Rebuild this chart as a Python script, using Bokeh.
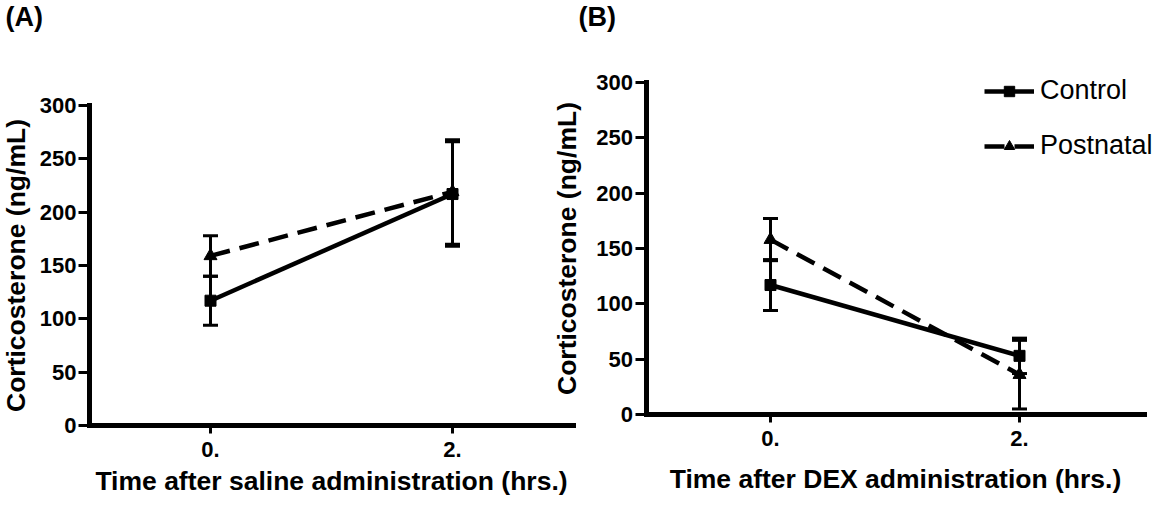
from bokeh.plotting import figure
from bokeh.models import (ColumnDataSource, Whisker, TeeHead, Legend, LegendItem,
                          Label, FixedTicker, Range1d, LinearAxis)
from bokeh.embed import file_html
from bokeh.resources import INLINE

# ---- data ----
times = [0, 2]
tick_labels = {0: "0.", 2: "2."}
y_ticks = [0, 50, 100, 150, 200, 250, 300]

control_A = [117, 217]
control_A_err = [23, 49]
postnatal_A = [159, 219]
postnatal_A_err = [19, 49]

control_B = [117, 53]
control_B_err = [23, 16]
postnatal_B = [158, 36]
postnatal_B_err = [19, 31]

FONT = "Liberation Sans"
W, H = 1157, 498
PAGE_L, PAGE_T = 8, 8


def span(v1, p1, v2, p2, lo, hi):
    """Range covering page pixels lo..hi when value v1 sits at p1 and v2 at p2."""
    s = (p2 - p1) / (v2 - v1)
    return Range1d(v1 + (lo - p1) / s, v1 + (hi - p1) / s)


# panel placement (page pixels)
Ax = span(0, 218, 2, 460, PAGE_L, PAGE_L + W)
Ay = span(0, 433, 300, 113, PAGE_T + H, PAGE_T)
Bx = span(0, 778, 2, 1027, PAGE_L, PAGE_L + W)
By = span(0, 422, 300, 90, PAGE_T + H, PAGE_T)

p = figure(width=W, height=H, x_range=Ax, y_range=Ay, x_axis_type=None, y_axis_type=None,
           min_border=0, output_backend="svg", toolbar_location=None)
p.extra_x_ranges = {"Bx": Bx}
p.extra_y_ranges = {"By": By}
p.outline_line_color = None
p.xgrid.visible = False
p.ygrid.visible = False


def style_axis(ax):
    ax.axis_line_width = 5
    ax.axis_line_color = "black"
    ax.axis_line_cap = "square"
    ax.major_tick_line_width = 3
    ax.major_tick_line_color = "black"
    ax.major_tick_in = 0
    ax.minor_tick_line_color = None
    ax.major_label_text_font = FONT
    ax.major_label_text_font_style = "bold"
    ax.major_label_text_font_size = "22px"
    ax.major_label_text_color = "black"
    ax.axis_label_text_font = FONT
    ax.axis_label_text_font_style = "bold"
    ax.axis_label_text_font_size = "26.5px"
    ax.axis_label_text_color = "black"


def add_axes(xlabel, xr=None, yr=None, xlab_standoff=6, ylab_standoff=6):
    kw = {}
    if xr:
        kw = dict(x_range_name=xr, y_range_name=yr)
    xa = LinearAxis(fixed_location=0, bounds=(-1, 3), ticker=FixedTicker(ticks=times),
                    major_label_overrides=tick_labels, axis_label=xlabel, **kw)
    style_axis(xa)
    xa.major_tick_out = 8
    xa.major_label_standoff = 8
    xa.axis_label_standoff = xlab_standoff
    p.add_layout(xa, "below")
    ya = LinearAxis(fixed_location=-1, bounds=(0, 300), ticker=FixedTicker(ticks=y_ticks),
                    axis_label="Corticosterone (ng/mL)", **kw)
    style_axis(ya)
    ya.major_tick_out = 11
    ya.major_label_standoff = 2
    ya.axis_label_standoff = ylab_standoff
    p.add_layout(ya, "left")


def add_series(ctrl, ctrl_err, post, post_err, xr=None, yr=None):
    kw = {}
    if xr:
        kw = dict(x_range_name=xr, y_range_name=yr)
    src_c = ColumnDataSource(dict(x=times, y=ctrl,
                                  lo=[v - e for v, e in zip(ctrl, ctrl_err)],
                                  hi=[v + e for v, e in zip(ctrl, ctrl_err)]))
    src_p = ColumnDataSource(dict(x=times, y=post,
                                  lo=[v - e for v, e in zip(post, post_err)],
                                  hi=[v + e for v, e in zip(post, post_err)]))
    lc = p.line("x", "y", source=src_c, line_width=4.5, line_color="black", **kw)
    lp = p.line("x", "y", source=src_p, line_width=4.5, line_color="black",
                line_dash="20 10", **kw)
    for s in (src_c, src_p):
        w = Whisker(base="x", upper="hi", lower="lo", source=s,
                    line_width=3, line_color="black",
                    upper_head=TeeHead(size=15, line_width=3, line_color="black"),
                    lower_head=TeeHead(size=15, line_width=3, line_color="black"), **kw)
        p.add_layout(w)
    sc = p.scatter("x", "y", source=src_c, marker="square", size=11,
                   fill_color="black", line_color="black", **kw)
    sp = p.scatter("x", "y", source=src_p, marker="triangle", size=13,
                   fill_color="black", line_color="black", **kw)
    return (lc, sc), (lp, sp)


add_axes("Time after saline administration (hrs.)", xlab_standoff=6, ylab_standoff=6)
add_axes("Time after DEX administration (hrs.)", "Bx", "By", xlab_standoff=15, ylab_standoff=12)

add_series(control_A, control_A_err, postnatal_A, postnatal_A_err)
rc, rp = add_series(control_B, control_B_err, postnatal_B, postnatal_B_err, "Bx", "By")

for txt, px in (("(A)", 13), ("(B)", 586)):
    p.add_layout(Label(x=px - PAGE_L, y=PAGE_T + H - 24, x_units="screen", y_units="screen",
                       text=txt, text_font=FONT, text_font_style="bold",
                       text_font_size="27px", text_baseline="middle", text_color="black"))

legend = Legend(items=[LegendItem(label="Control", renderers=list(rc)),
                       LegendItem(label="Postnatal", renderers=list(rp))],
                location=(992 - PAGE_L, PAGE_T + H - 169), glyph_width=50, glyph_height=26,
                label_height=26, spacing=24, padding=0, margin=0,
                border_line_color=None, background_fill_alpha=0,
                label_text_font=FONT, label_text_font_size="27px",
                label_standoff=6, label_text_color="black")
p.add_layout(legend)

open("out.html", "w").write(file_html(p, INLINE))
